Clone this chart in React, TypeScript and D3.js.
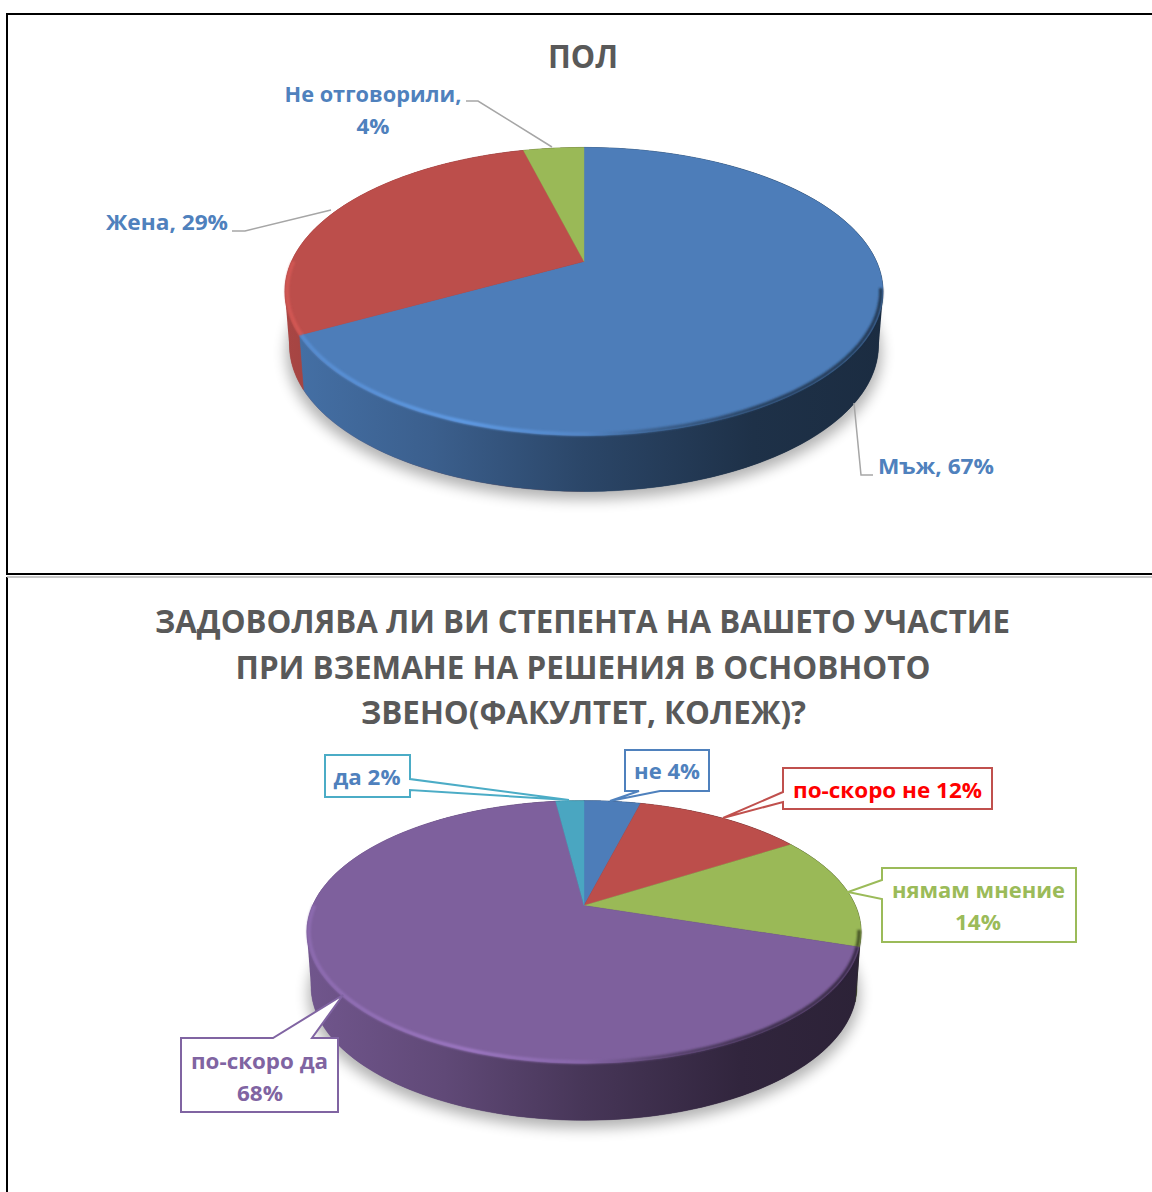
import React from "react";
import * as d3 from "d3";

const genderCategories = ["Мъж", "Жена", "Не отговорили"];
const genderValues = [67, 29, 4];
const genderColors = ["#4d7db9", "#bc4e4b", "#9ab957"];
const satisfactionCategories = ["не", "по-скоро не", "нямам мнение", "по-скоро да", "да"];
const satisfactionValues = [4, 12, 14, 68, 2];
const satisfactionColors = ["#4d7db9", "#bc4e4b", "#9ab957", "#7e609d", "#4aa6c1"];
const genderTitle = "ПОЛ";
const satisfactionTitle = [
  "ЗАДОВОЛЯВА ЛИ ВИ СТЕПЕНТА НА ВАШЕТО УЧАСТИЕ",
  "ПРИ ВЗЕМАНЕ НА РЕШЕНИЯ В ОСНОВНОТО",
  "ЗВЕНО(ФАКУЛТЕТ, КОЛЕЖ)?",
];

const FONT = "'Open Sans', 'Noto Sans', sans-serif";

type Geo = { id: string; cx: number; cy: number; a: number; b: number; k: number; d0: number; d1: number; s: number };
const geo1: Geo = { id: "g", cx: 584, cy: 261.5, a: 292.5, b: 137.8, k: 0.208, d0: 53, d1: 3, s: 0.985 };
const geo2: Geo = { id: "s", cx: 584, cy: 905.5, a: 271.4, b: 126, k: 0.2015, d0: 54, d1: 3, s: 0.985 };

const top = (g: Geo, t: number, inset = 1): [number, number] => {
  const u = Math.sin(t) * inset, v = -Math.cos(t) * inset, w = 1 - g.k * v;
  return [g.cx + (g.a * u) / w, g.cy + (g.b * v) / w];
};
const base = (g: Geo, t: number): [number, number] => {
  const [x, y] = top(g, t);
  return [g.cx + (x - g.cx) * g.s, y + g.d0 + g.d1 * -Math.cos(t)];
};
const sample = (a0: number, a1: number) => d3.range(0, 121).map((i) => a0 + ((a1 - a0) * i) / 120);
const line = d3.line();

function hex(c: string, f: number) {
  const r = d3.rgb(c);
  return d3.rgb(r.r * f, r.g * f, r.b * f).formatHex();
}

function Pie({ g, values, colors, cats }: { g: Geo; values: number[]; colors: string[]; cats: string[] }) {
  const arcs = d3.pie<number>().sort(null).value((d) => d)(values);
  const x0 = g.cx - g.a * 1.03, x1 = g.cx + g.a * 1.03;
  const outline = sample(0, Math.PI * 2).map((t) => base(g, t));
  const topOutline = sample(0, Math.PI * 2).map((t) => top(g, t));
  const hull = d3.polygonHull([...outline, ...topOutline]) as [number, number][];
  const sliceAt = (t: number) => arcs.findIndex((a) => t >= a.startAngle && t < a.endAngle);
  const leftSlice = sliceAt(Math.PI * 1.45);
  const rightSlice = sliceAt(Math.PI * 0.7);
  return (
    <g>
      <defs>
        {colors.map((c, i) => (
          <React.Fragment key={c}>
            <linearGradient id={`${g.id}side${i}`} gradientUnits="userSpaceOnUse" x1={x0} x2={x1} y1={0} y2={0}>
              <stop offset="0" stopColor={hex(c, 0.9)} />
              <stop offset="0.25" stopColor={hex(c, 0.76)} />
              <stop offset="0.5" stopColor={hex(c, 0.56)} />
              <stop offset="0.78" stopColor={hex(c, 0.39)} />
              <stop offset="1" stopColor={hex(c, 0.35)} />
            </linearGradient>
            <linearGradient id={`${g.id}rim${i}`} gradientUnits="userSpaceOnUse" x1={x0} x2={x1} y1={0} y2={0}>
              <stop offset="0" stopColor={d3.rgb(c).brighter(0.3).formatHex()} />
              <stop offset="0.3" stopColor={d3.rgb(c).brighter(0.6).formatHex()} />
              <stop offset="0.5" stopColor={d3.rgb(c).brighter(0.2).formatHex()} />
              <stop offset="0.62" stopColor={hex(c, 0.75)} />
              <stop offset="0.8" stopColor={hex(c, 0.5)} />
              <stop offset="1" stopColor={hex(c, 0.45)} />
            </linearGradient>
          </React.Fragment>
        ))}
        <clipPath id={`${g.id}L`}>
          <rect x={0} y={0} width={g.cx} height={1192} />
        </clipPath>
        <clipPath id={`${g.id}R`}>
          <rect x={g.cx} y={0} width={g.cx} height={1192} />
        </clipPath>
      </defs>
      <path
        d={line(outline.map(([x, y]) => [g.cx + (x - g.cx) * 1.01, y + 8] as [number, number])) + "Z"}
        fill="#000"
        opacity="0.3"
        filter="url(#blurShadow)"
      />
      <path d={line(hull) + "Z"} fill={`url(#${g.id}side${leftSlice})`} clipPath={`url(#${g.id}L)`} />
      <path d={line(hull) + "Z"} fill={`url(#${g.id}side${rightSlice})`} clipPath={`url(#${g.id}R)`} />
      {arcs.map((a, i) => {
        const ts = sample(a.startAngle, a.endAngle);
        const poly = [...ts.map((t) => top(g, t)), ...ts.slice().reverse().map((t) => base(g, t))];
        return (
          <path
            key={cats[i]}
            d={line(poly) + "Z"}
            fill={`url(#${g.id}side${i})`}
            stroke={`url(#${g.id}side${i})`}
            strokeWidth={0.5}
          />
        );
      })}
      {arcs.map((a, i) => {
        const ts = sample(a.startAngle, a.endAngle);
        const poly: [number, number][] = [[g.cx, g.cy], ...ts.map((t) => top(g, t))];
        return <path key={cats[i]} d={line(poly) + "Z"} fill={colors[i]} stroke={colors[i]} strokeWidth={0.4} />;
      })}
      {arcs.map((a, i) => {
        const lo = Math.max(a.startAngle, Math.PI * 0.56);
        const hi = Math.min(a.endAngle, Math.PI * 1.5);
        if (hi <= lo) return null;
        return (
          <path
            key={cats[i]}
            d={line(sample(lo, hi).map((t) => top(g, t, 0.993))) ?? ""}
            fill="none"
            stroke={`url(#${g.id}rim${i})`}
            strokeWidth={3.5}
            filter="url(#blurRim)"
          />
        );
      })}
    </g>
  );
}

function Txt({ x, y, w, size, fill, children }: { x: number; y: number; w: number; size: number; fill: string; children: string }) {
  return (
    <text
      x={x}
      y={y}
      textAnchor="middle"
      fontFamily={FONT}
      fontWeight={700}
      fontSize={size}
      fill={fill}
      textLength={w}
      lengthAdjust="spacingAndGlyphs"
    >
      {children}
    </text>
  );
}

function Leader({ pts }: { pts: [number, number][] }) {
  return <path d={line(pts) ?? ""} fill="none" stroke="#a6a6a6" strokeWidth={1.5} />;
}

function Callout({ box, tail, side, stroke }: { box: [number, number, number, number]; tail: [number, number][]; side: "l" | "r" | "t" | "b"; stroke: string }) {
  const [l, t, r, b] = box;
  const path: [number, number][] =
    side === "l"
      ? [[l, t], [r, t], [r, b], [l, b], ...tail.slice().reverse()]
      : side === "r"
      ? [[l, t], [r, t], ...tail, [r, b], [l, b]]
      : side === "t"
      ? [[l, t], ...tail, [r, t], [r, b], [l, b]]
      : [[l, t], [r, t], [r, b], ...tail.slice().reverse(), [l, b]];
  return <path d={line(path) + "Z"} fill="#fff" stroke={stroke} strokeWidth={2} strokeLinejoin="miter" />;
}

export default function App() {
  return (
    <svg width={1152} height={1192} style={{ position: "absolute", left: 0, top: 0, background: "#fff" }}>
      <defs>
        <filter id="blurShadow" x="-20%" y="-20%" width="140%" height="140%">
          <feGaussianBlur stdDeviation="7" />
        </filter>
        <filter id="blurRim" filterUnits="userSpaceOnUse" x="0" y="0" width="1152" height="1192">
          <feGaussianBlur stdDeviation="1.3" />
        </filter>
      </defs>

      <path d="M1152,14H7V574H1152" fill="none" stroke="#000" strokeWidth={2} />
      <path d="M7,1192V577" fill="none" stroke="#000" strokeWidth={2} />
      <path d="M7,577H1152" fill="none" stroke="#b5b5b5" strokeWidth={1.5} />

      <Pie g={geo1} values={genderValues} colors={genderColors} cats={genderCategories} />
      <Txt x={583} y={68} w={70} size={33} fill="#595959">{genderTitle}</Txt>
      <Leader pts={[[466, 101], [478, 101], [552, 147]]} />
      <Leader pts={[[232, 231], [245, 231], [331, 210]]} />
      <Leader pts={[[854, 403], [861, 475], [873, 475]]} />
      <Txt x={373} y={102} w={177} size={22} fill="#4f81bd">{`${genderCategories[2]},`}</Txt>
      <Txt x={373} y={134} w={33} size={22} fill="#4f81bd">{`${genderValues[2]}%`}</Txt>
      <Txt x={167} y={230} w={122} size={22} fill="#4f81bd">{`${genderCategories[1]}, ${genderValues[1]}%`}</Txt>
      <Txt x={936} y={473.5} w={116} size={22} fill="#4f81bd">{`${genderCategories[0]}, ${genderValues[0]}%`}</Txt>

      <Pie g={geo2} values={satisfactionValues} colors={satisfactionColors} cats={satisfactionCategories} />
      <Txt x={582.5} y={632.5} w={855} size={33} fill="#595959">{satisfactionTitle[0]}</Txt>
      <Txt x={583} y={678.5} w={695} size={33} fill="#595959">{satisfactionTitle[1]}</Txt>
      <Txt x={583.5} y={723.5} w={445} size={33} fill="#595959">{satisfactionTitle[2]}</Txt>

      <Callout box={[325, 755, 410, 797]} side="r" stroke="#4bacc6" tail={[[410, 779], [569, 800], [410, 790]]} />
      <Callout box={[625, 750, 709, 791]} side="b" stroke="#4f81bd" tail={[[639, 791], [610, 801], [660, 791]]} />
      <Callout box={[783, 768, 992, 809]} side="l" stroke="#c0504d" tail={[[783, 792], [723, 818], [783, 802]]} />
      <Callout box={[882, 868, 1076, 942]} side="l" stroke="#9bbb59" tail={[[882, 880], [848, 892], [882, 899]]} />
      <Callout box={[181, 1038, 338, 1112]} side="t" stroke="#8064a2" tail={[[273, 1038], [343, 995], [312, 1038]]} />

      <Txt x={367} y={784.5} w={67} size={22} fill="#4f81bd">{`${satisfactionCategories[4]} ${satisfactionValues[4]}%`}</Txt>
      <Txt x={667} y={778.5} w={66} size={22} fill="#4f81bd">{`${satisfactionCategories[0]} ${satisfactionValues[0]}%`}</Txt>
      <Txt x={887.5} y={797.5} w={189} size={22} fill="#ff0000">{`${satisfactionCategories[1]} ${satisfactionValues[1]}%`}</Txt>
      <Txt x={978.5} y={897.5} w={173} size={22} fill="#9bbb59">{satisfactionCategories[2]}</Txt>
      <Txt x={978} y={930} w={46} size={22} fill="#9bbb59">{`${satisfactionValues[2]}%`}</Txt>
      <Txt x={259.5} y={1068.5} w={137} size={22} fill="#8064a2">{satisfactionCategories[3]}</Txt>
      <Txt x={260} y={1100.5} w={46} size={22} fill="#8064a2">{`${satisfactionValues[3]}%`}</Txt>
    </svg>
  );
}
